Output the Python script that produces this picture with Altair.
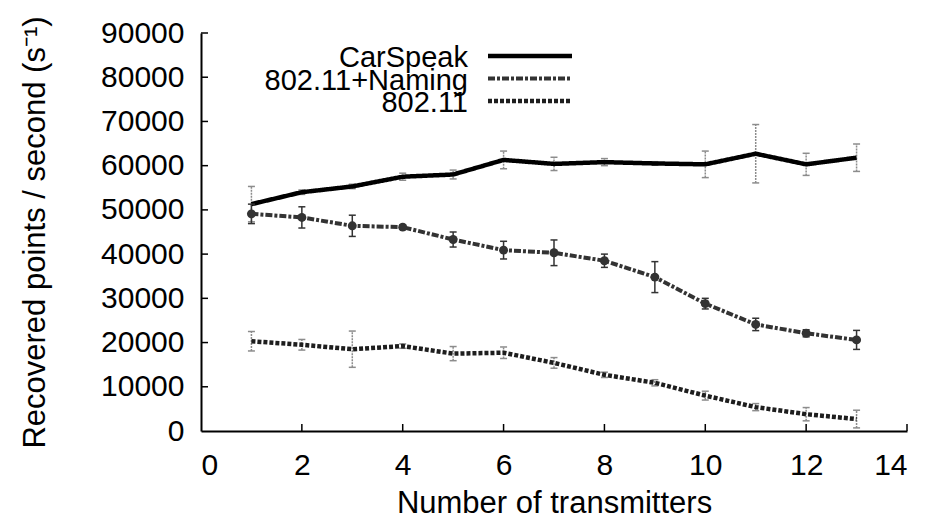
import altair as alt
import pandas as pd

# ---- data ----
transmitters = [1, 2, 3, 4, 5, 6, 7, 8, 9, 10, 11, 12, 13]
carspeak = [51300, 54000, 55300, 57500, 58000, 61300, 60400, 60800, 60500, 60300, 62700, 60300, 61800]
carspeak_err = [4000, 500, 500, 800, 1000, 2000, 1500, 800, 400, 3000, 6600, 2500, 3100]
naming = [49100, 48300, 46400, 46100, 43300, 40900, 40300, 38500, 34800, 28800, 24100, 22100, 20600]
naming_err = [2200, 2400, 2400, 500, 1700, 2000, 2900, 1500, 3500, 1200, 1400, 800, 2150]
wifi = [20300, 19500, 18500, 19200, 17500, 17700, 15400, 12700, 10900, 8000, 5400, 3800, 2700]
wifi_err = [2200, 1200, 4100, 500, 1600, 1300, 1200, 600, 700, 1000, 800, 1500, 2000]

series_names = ["CarSpeak", "802.11+Naming", "802.11"]
x_ticks = [0, 2, 4, 6, 8, 10, 12, 14]
y_ticks = [0, 10000, 20000, 30000, 40000, 50000, 60000, 70000, 80000, 90000]

FONT = "Liberation Sans"
W, H = 706, 398

xscale = alt.Scale(domain=[0, 14], nice=False, zero=False)
yscale = alt.Scale(domain=[0, 90000], nice=False)
xaxis = alt.Axis(values=x_ticks, title="Number of transmitters", format="d")
yaxis = alt.Axis(values=y_ticks, title="Recovered points / second (s⁻¹)", format="d")


def X(field):
    return alt.X(field, scale=xscale, axis=xaxis)


def Y(field):
    return alt.Y(field, scale=yscale, axis=yaxis)


styles = {
    "CarSpeak": dict(color="#000000", width=4.5, dash=[1, 0], err="#8c8c8c", errdash=[2, 1], marker=False),
    "802.11+Naming": dict(color="#333333", width=4, dash=[7, 2, 3, 2], err="#333333", errdash=[1, 0], marker=True),
    "802.11": dict(color="#1e1e1e", width=4.5, dash=[4, 2], err="#8c8c8c", errdash=[2, 1], marker=False),
}
values = {"CarSpeak": (carspeak, carspeak_err), "802.11+Naming": (naming, naming_err), "802.11": (wifi, wifi_err)}

layers = []
for i, name in enumerate(series_names):
    vals, errs = values[name]
    st = styles[name]
    df = pd.DataFrame({
        "x": transmitters,
        "y": vals,
        "lo": [v - e for v, e in zip(vals, errs)],
        "hi": [v + e for v, e in zip(vals, errs)],
    })
    base = alt.Chart(df)
    err = base.mark_rule(color=st["err"], strokeWidth=1.5, strokeDash=st["errdash"]).encode(
        x=X("x:Q"), y=Y("lo:Q"), y2="hi:Q")
    cap_lo = base.mark_point(shape="M-1,0L1,0", size=49, filled=False, color=st["err"], strokeWidth=1.5, opacity=1).encode(
        x=X("x:Q"), y=Y("lo:Q"))
    cap_hi = base.mark_point(shape="M-1,0L1,0", size=49, filled=False, color=st["err"], strokeWidth=1.5, opacity=1).encode(
        x=X("x:Q"), y=Y("hi:Q"))
    line = base.mark_line(color=st["color"], strokeWidth=st["width"], strokeDash=st["dash"]).encode(
        x=X("x:Q"), y=Y("y:Q"))
    layers += [err, cap_lo, cap_hi, line]
    if st["marker"]:
        layers.append(base.mark_circle(color=st["color"], size=80, opacity=1).encode(
            x=X("x:Q"), y=Y("y:Q")))

    # legend row (label right-aligned, line sample to the right)
    ly = 23 + i * 22.5
    ldf = pd.DataFrame({"name": [name]})
    layers.append(alt.Chart(ldf).mark_text(align="right", baseline="middle", font=FONT, fontSize=29,
                                           color="black", dy=2).encode(
        text="name:N", x=alt.value(267), y=alt.value(ly)))
    layers.append(alt.Chart(ldf).mark_rule(color=st["color"], strokeWidth=st["width"], strokeDash=st["dash"]).encode(
        x=alt.value(287), x2=alt.value(371), y=alt.value(ly)))

# inward ticks
ydf = pd.DataFrame({"v": y_ticks[1:]})
xdf = pd.DataFrame({"v": x_ticks[1:]})
layers.append(alt.Chart(ydf).mark_rule(color="black", strokeWidth=1.5).encode(
    y=Y("v:Q"), x=alt.value(0), x2=alt.value(7)))
layers.append(alt.Chart(xdf).mark_rule(color="black", strokeWidth=1.5).encode(
    x=X("v:Q"), y=alt.value(H), y2=alt.value(H - 7)))

chart = alt.layer(*layers).properties(
    width=W, height=H,
    autosize=alt.AutoSizeParams(type="none"),
    padding={"left": 193, "top": 25, "right": 20, "bottom": 95},
).configure_view(stroke=None).configure_axis(
    grid=False, ticks=False,
    domainColor="black", domainWidth=2,
    labelFont=FONT, labelFontSize=30, labelColor="black",
    titleFont=FONT, titleFontSize=31, titleColor="black", titleFontWeight="normal",
).configure_axisY(labelPadding=17, titlePadding=49).configure_axisX(labelPadding=19, titlePadding=8)

chart.save("out.html", embed_options={"renderer": "svg", "actions": False})
